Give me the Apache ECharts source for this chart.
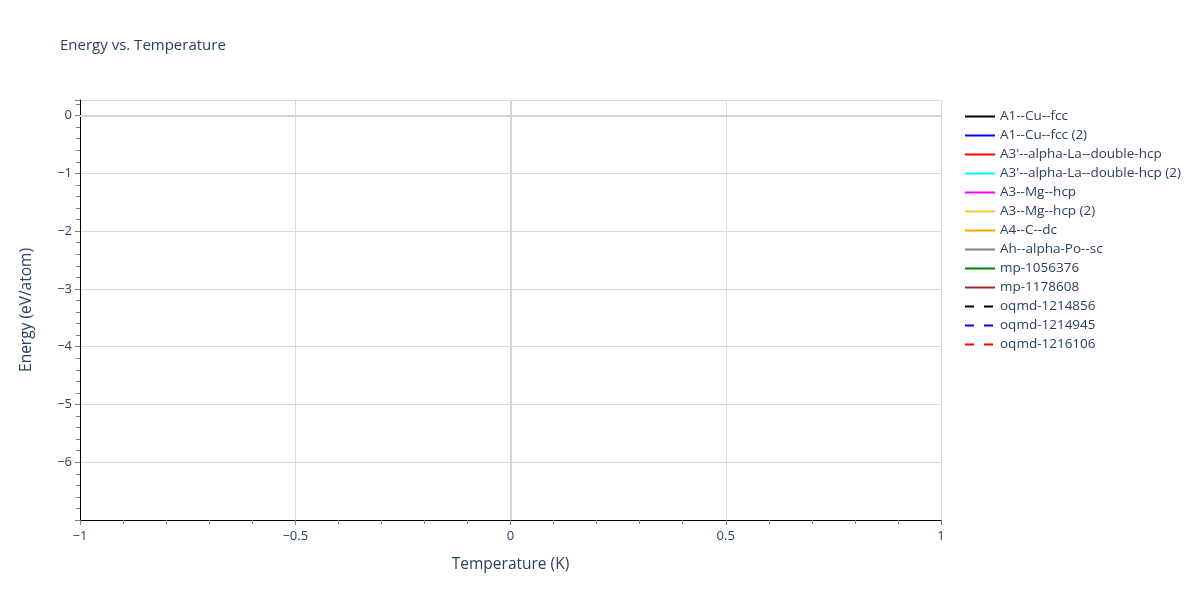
<!DOCTYPE html>
<html>
<head>
    <meta charset="utf-8">
    <title>Energy vs. Temperature</title>
    <script src="https://cdn.jsdelivr.net/npm/echarts@6/dist/echarts.min.js"></script>
</head>
<body style="margin:0">
<div id="main" style="width:1200px;height:600px;"></div>

<script type="text/javascript">
    // series in the legend (the reference shows no plotted points)
    var seriesNames = [
        'A1--Cu--fcc', 'A1--Cu--fcc (2)', "A3'--alpha-La--double-hcp",
        "A3'--alpha-La--double-hcp (2)", 'A3--Mg--hcp', 'A3--Mg--hcp (2)',
        'A4--C--dc', 'Ah--alpha-Po--sc', 'mp-1056376', 'mp-1178608',
        'oqmd-1214856', 'oqmd-1214945', 'oqmd-1216106'
    ];
    var seriesColors = [
        '#000000', '#0000ff', '#ff0000', '#00ffff', '#ff00ff', '#ecc63f',
        '#ffa500', '#808080', '#008000', '#a52a2a',
        '#000000', '#0000ff', '#ff0000'
    ];
    var seriesDashed = [
        false, false, false, false, false, false,
        false, false, false, false,
        true, true, true
    ];
    // [temperature, energy] pairs per series: all empty in the reference
    var seriesData = seriesNames.map(function () { return []; });

    var xTicks = [-1, -0.5, 0, 0.5, 1];
    var yTicks = [-6, -5, -4, -3, -2, -1, 0];

    var fontColor = '#2a3f5f';
    var fontFamily = '"Open Sans", Verdana, Arial, sans-serif';

    var solidIcon = 'path://M0,0H30V2H0Z';
    var dashIcon = 'path://M0,0H9V2H0ZM19,0H28V2H19ZM0,0H30V0H0Z';

    function minus(v) {
        return String(v).replace('-', '\u2212');
    }

    var series = seriesNames.map(function (name, i) {
        return {
            name: name,
            type: 'line',
            data: seriesData[i],
            symbol: 'none',
            lineStyle: {
                color: seriesColors[i],
                width: 2,
                type: seriesDashed[i] ? [9, 9] : 'solid'
            },
            itemStyle: { color: seriesColors[i] }
        };
    });

    // zero lines
    series.push({
        name: 'zeroline',
        type: 'line',
        data: [],
        silent: true,
        markLine: {
            silent: true,
            symbol: 'none',
            label: { show: false },
            lineStyle: { color: '#d4d4d4', width: 2, type: 'solid' },
            data: [{ xAxis: 0 }, { yAxis: 0 }]
        }
    });

    var legendData = seriesNames.map(function (name, i) {
        return {
            name: name,
            icon: seriesDashed[i] ? dashIcon : solidIcon,
            itemStyle: { color: seriesColors[i], borderWidth: 0 }
        };
    });

    var myChart = echarts.init(document.getElementById('main'));

    var option = {
        backgroundColor: '#ffffff',
        animation: false,
        textStyle: { fontFamily: fontFamily },
        title: {
            text: 'Energy vs. Temperature',
            left: 60,
            top: 38,
            padding: 0,
            textStyle: {
                color: fontColor,
                fontSize: 15,
                fontWeight: 'normal',
                fontFamily: fontFamily
            }
        },
        legend: {
            data: legendData,
            orient: 'vertical',
            left: 960,
            top: 104,
            itemWidth: 30,
            itemHeight: 2,
            itemGap: 4,
            textStyle: { color: fontColor, fontSize: 13.5, fontFamily: fontFamily, lineHeight: 15 }
        },
        grid: {
            left: 80,
            right: 259,
            top: 100,
            bottom: 80,
            containLabel: false
        },
        xAxis: {
            type: 'value',
            min: -1,
            max: 1,
            interval: 0.5,
            name: 'Temperature (K)',
            nameLocation: 'middle',
            nameGap: 37,
            nameTextStyle: { color: fontColor, fontSize: 15.5, fontFamily: fontFamily },
            axisLine: { show: true, onZero: false, lineStyle: { color: '#000000', width: 1 } },
            axisTick: { show: true, length: 5, lineStyle: { color: '#7f7f7f', width: 1 } },
            minorTick: { show: true, splitNumber: 5, length: 4, lineStyle: { color: '#7f7f7f', width: 1 } },
            axisLabel: {
                color: fontColor,
                fontSize: 13,
                margin: 10,
                formatter: function (v) {
                    return xTicks.indexOf(v) >= 0 ? minus(v) : '';
                }
            },
            splitLine: { show: true, lineStyle: { color: '#dadada', width: 1 } }
        },
        yAxis: {
            type: 'value',
            min: -7,
            max: 0.27,
            interval: 1,
            name: 'Energy (eV/atom)',
            nameLocation: 'middle',
            nameGap: 45,
            nameTextStyle: { color: fontColor, fontSize: 15.5, fontFamily: fontFamily },
            axisLine: { show: true, onZero: false, lineStyle: { color: '#000000', width: 1 } },
            axisTick: { show: true, length: 5, lineStyle: { color: '#7f7f7f', width: 1 } },
            minorTick: { show: true, splitNumber: 5, length: 4, lineStyle: { color: '#7f7f7f', width: 1 } },
            axisLabel: {
                color: fontColor,
                fontSize: 13,
                margin: 8,
                showMaxLabel: false,
                formatter: function (v) {
                    return yTicks.indexOf(v) >= 0 ? minus(v) : '';
                }
            },
            splitLine: { show: true, lineStyle: { color: '#dadada', width: 1 } }
        },
        series: series
    };

    myChart.setOption(option);
</script>
</body>
</html>
